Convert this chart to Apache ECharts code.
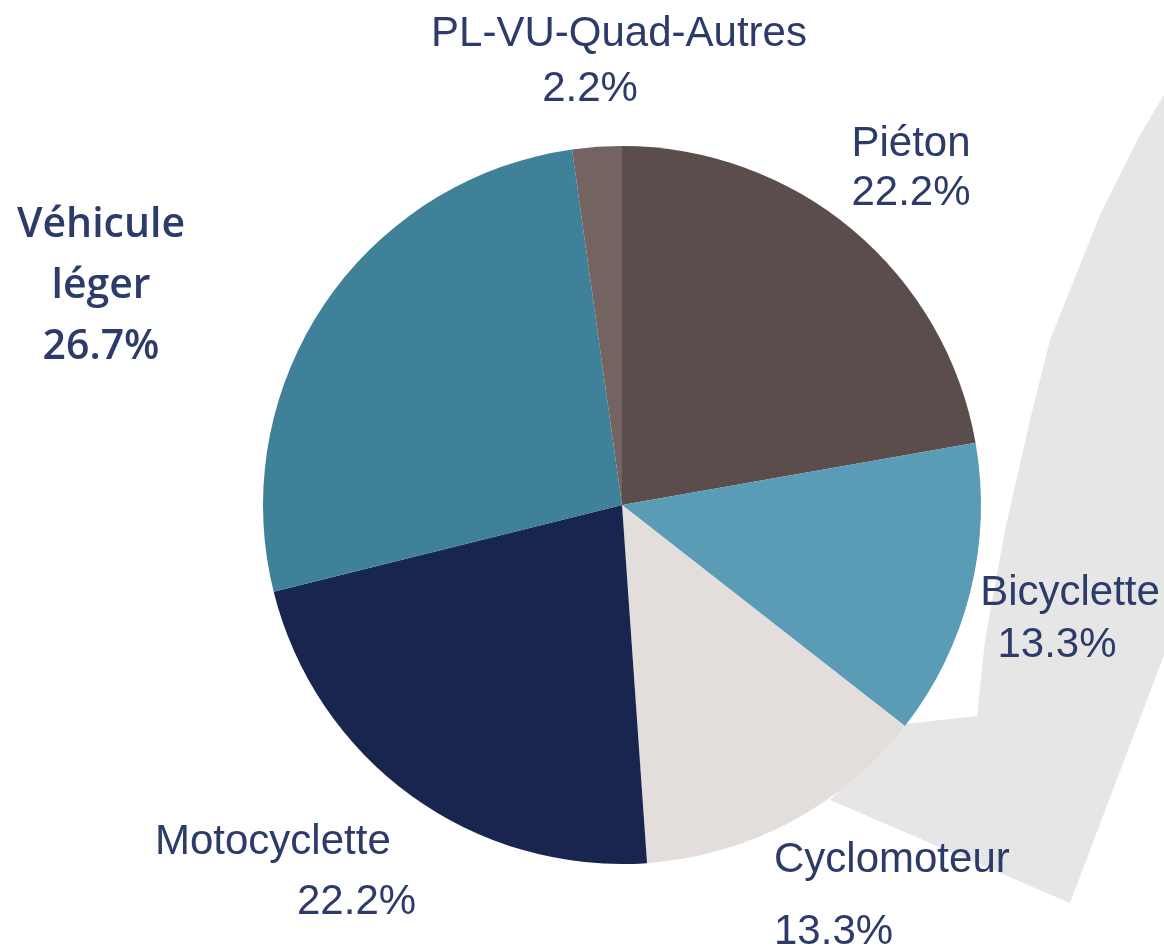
<!DOCTYPE html>
<html>
<head>
<meta charset="utf-8">
<script src="https://cdn.jsdelivr.net/npm/echarts@6/dist/echarts.min.js"></script>
<style>
  html, body { margin: 0; padding: 0; background: #fff; }
  #chart-panel { width: 1164px; height: 947px; }
</style>
</head>
<body>
<div id="chart-panel"></div>
<script>
// categories & counts (45 cases in total)
const categories = ["Piéton", "Bicyclette", "Cyclomoteur", "Motocyclette", "Véhicule\nléger", "PL-VU-Quad-Autres"]
const counts = [10, 6, 6, 10, 12, 1]
const colors = ["#5c4d4d", "#5a9bb5", "#e3dedc", "#18264f", "#3e8199", "#736462"]

// label placement (layout only)
const labelPos = [
  { x: 911, y: 169, align: "center" },
  { x: 1070, y: 619, align: "center" },
  { x: 774, y: 896, align: "left" },
  { x: 155, y: 872, align: "left" },
  { x: 101, y: 286, align: "center" },
  { x: 619, y: 62, align: "center" }
]

const textColor = "#2d3b6a"
const chart = echarts.init(document.getElementById("chart-panel"))

const data = categories.map((name, i) => {
  const item = { name: name, value: counts[i], itemStyle: { color: colors[i] } }
  const base = { fontFamily: "Liberation Sans", fontSize: 42, color: textColor }
  let rich = { n: { ...base, lineHeight: 52 }, p: { ...base, lineHeight: 52 } }
  if (i === 0) {
    rich.n.lineHeight = 49; rich.p.lineHeight = 49
  } else if (i === 1) {
    rich.p = { ...rich.p, padding: [0, 26, 0, 0] }
  } else if (i === 2) {
    rich.n.lineHeight = 72; rich.p.lineHeight = 72
  } else if (i === 3) {
    rich.n.lineHeight = 60; rich.p.lineHeight = 60
    rich.p = { ...rich.p, padding: [0, 0, 0, 142] }
  } else if (i === 4) {
    const f = { fontFamily: "Open Sans", fontSize: 41, fontWeight: 600, color: textColor, lineHeight: 61 }
    rich = { n: f, p: f }
  } else if (i === 5) {
    rich.n.lineHeight = 55
    rich.p = { ...rich.p, lineHeight: 55, padding: [0, 58, 0, 0] }
  }
  item.label = { rich: rich }
  return item
})

const options = {
  animation: false,
  backgroundColor: "#fff",
  graphic: [
    {
      type: "polygon",
      z: 0,
      shape: {
        points: [[1164, 95], [1140, 135], [1100, 215], [1050, 340], [1030, 420], [1005, 530],
          [985, 640], [977, 716], [905, 724], [830, 800], [1070, 903], [1164, 655]]
      },
      style: { fill: "#e6e6e6" }
    }
  ],
  series: [
    {
      type: "pie",
      z: 2,
      center: [622, 505],
      radius: 359,
      startAngle: 90,
      clockwise: true,
      itemStyle: { borderWidth: 0 },
      labelLine: { show: false },
      label: {
        show: true,
        position: "outside",
        overflow: "none",
        edgeDistance: 0,
        formatter: (p) => {
          const lines = p.name.split("\n").map((s) => "{n|" + s + "}")
          return lines.join("\n") + "\n{p|" + p.percent.toFixed(1) + "%}"
        }
      },
      labelLayout: (params) => {
        const lp = labelPos[params.dataIndex]
        return { x: lp.x, y: lp.y, align: lp.align, verticalAlign: "middle" }
      },
      data: data
    }
  ]
}
chart.setOption(options)
</script>
</body>
</html>
